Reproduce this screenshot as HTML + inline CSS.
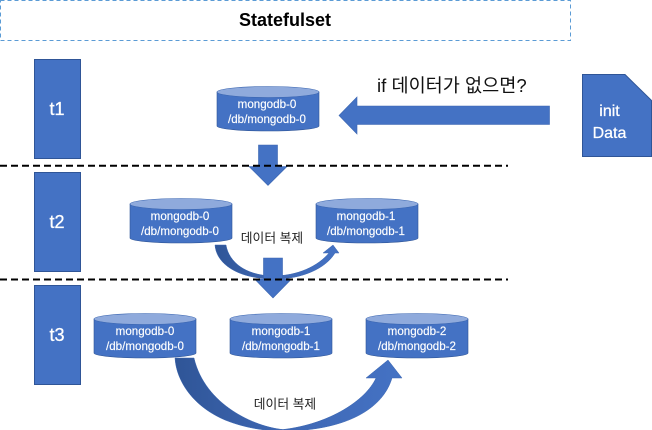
<!DOCTYPE html>
<html><head><meta charset="utf-8">
<style>
html,body{margin:0;padding:0;background:#fff;width:652px;height:430px;overflow:hidden}
svg{display:block}
text{font-family:"Liberation Sans","Noto Sans CJK KR",sans-serif}
.w{fill:#fff;font-size:11.6px;text-anchor:middle;stroke:#fff;stroke-width:.15}
.t{fill:#fff;font-size:18px;text-anchor:middle;stroke:#fff;stroke-width:.3}
.i{fill:#fff;font-size:16px;text-anchor:middle;stroke:#fff;stroke-width:.25}
.k{fill:#222;font-size:12.8px;text-anchor:middle}
.b{fill:#4472c4;stroke:#2f5597;stroke-width:1}
.c{fill:#4472c4;stroke:#2f5597;stroke-width:.6}
.a{fill:#4472c4;stroke:#3a65b0;stroke-width:.6}
.top{fill:#8faadc;stroke:#3a65b0;stroke-width:.6}
.d{stroke:#000;stroke-width:2;stroke-dasharray:7 4;fill:none}
</style></head><body>
<svg width="652" height="430" viewBox="0 0 652 430" xmlns="http://www.w3.org/2000/svg">
<defs>
<linearGradient id="g1" x1="0" x2="1" y1="0" y2="0"><stop offset="0" stop-color="#2f5597"/><stop offset=".5" stop-color="#3f68b4"/><stop offset="1" stop-color="#4472c4"/></linearGradient>
<symbol id="cyl" width="104" height="47" viewBox="0 0 104 47" overflow="visible">
<path class="c" d="M1 6 V40 A51 5 0 0 0 103 40 V6 Z"/>
<ellipse class="top" cx="52" cy="6" rx="51" ry="5.5"/>
</symbol>
</defs>

<rect x="0.5" y="0.5" width="570" height="40" fill="#fff" stroke="#5b9bd5" stroke-width="1" stroke-dasharray="4 3"/>
<text x="285" y="26" font-size="18" font-weight="bold" text-anchor="middle" fill="#000">Statefulset</text>

<rect class="b" x="34.5" y="59.5" width="46" height="99"/>
<rect class="b" x="34.5" y="172.5" width="46" height="99"/>
<rect class="b" x="34.5" y="285.5" width="46" height="99"/>
<text class="t" x="57" y="115">t1</text>
<text class="t" x="57" y="228">t2</text>
<text class="t" x="57" y="341">t3</text>

<path class="b" d="M582.5 74.5 H625 L651.5 100.5 V156.5 H582.5 Z"/>
<text class="i" x="609.5" y="116">init</text>
<text class="i" x="609.5" y="138">Data</text>

<text x="377" y="92" font-size="18.6" fill="#111">if 데이터가 없으면?</text>
<path class="a" d="M339 115.5 L357 97 V106 H549.5 V124.5 H357 V134 Z"/>

<use href="#cyl" x="216" y="86"/>
<text class="w" x="267" y="108">mongodb-0</text>
<text class="w" x="267" y="123">/db/mongodb-0</text>

<path class="a" d="M258.5 145 H277.5 V166.5 H287 L268 185.5 L249 166.5 H258.5 Z"/>

<use href="#cyl" x="129" y="198"/>
<text class="w" x="180" y="220">mongodb-0</text>
<text class="w" x="180" y="235">/db/mongodb-0</text>
<use href="#cyl" x="315" y="198"/>
<text class="w" x="366" y="220">mongodb-1</text>
<text class="w" x="366" y="235">/db/mongodb-1</text>
<text class="k" x="272" y="242.5">데이터 복제</text>

<path fill="url(#g1)" stroke="#3a65b0" stroke-width=".5" d="M215 245 C216 262 235 279 275 279 C303 279 326 268 335 253 H339 L333 245 L323 253 H329 C318 266 298 276 272 276 C245 275 229 262 226 245 Z"/>
<path class="a" d="M263.5 258 H282.5 V279 H291.5 L273 298 L254.5 279 H263.5 Z"/>

<use href="#cyl" x="93" y="313"/>
<text class="w" x="145" y="335">mongodb-0</text>
<text class="w" x="145" y="350">/db/mongodb-0</text>
<use href="#cyl" x="229" y="313"/>
<text class="w" x="281" y="335">mongodb-1</text>
<text class="w" x="281" y="350">/db/mongodb-1</text>
<use href="#cyl" x="365" y="313"/>
<text class="w" x="417" y="335">mongodb-2</text>
<text class="w" x="417" y="350">/db/mongodb-2</text>

<path fill="url(#g1)" stroke="#3a65b0" stroke-width=".5" d="M175 358 C176 378 190 405 225 420 C245 428 265 431 283 431 C340 431 382 412 392 378 H402 L388 360 L366 378 H376 C366 400 330 424 283 429.5 C255 427 205 405 194 358 Z"/>
<text class="k" x="285" y="408.5">데이터 복제</text>

<line class="d" x1="0" y1="165.7" x2="508" y2="165.7"/>
<line class="d" x1="0" y1="279.5" x2="508" y2="279.5"/>
</svg>
</body></html>
